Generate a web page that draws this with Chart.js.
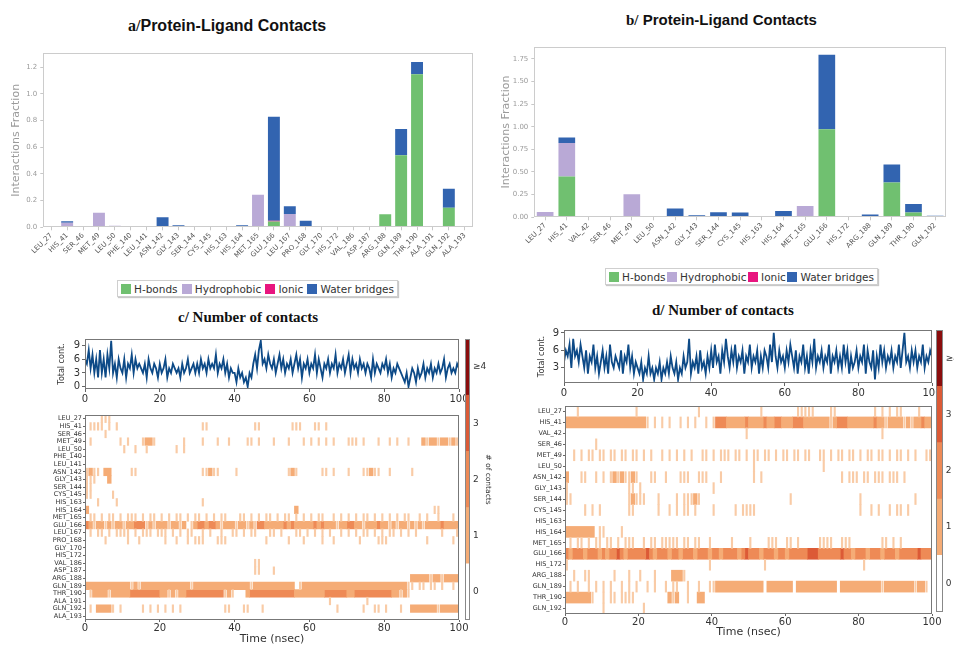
<!DOCTYPE html>
<html><head><meta charset="utf-8">
<script src="https://cdn.jsdelivr.net/npm/chart.js@4.4.1/dist/chart.umd.min.js"></script>
<style>
html,body{margin:0;padding:0;background:#fff}
body{width:954px;height:646px;overflow:hidden;position:relative;font-family:'DejaVu Sans',sans-serif}
canvas{position:absolute}
.title{position:absolute;white-space:nowrap;font-weight:bold;color:#111;line-height:1}
.serif{font-family:'Liberation Serif','DejaVu Serif',serif}
.sans{font-family:'Liberation Sans',Arial,sans-serif}
.legend{position:absolute;height:17px;box-sizing:border-box;border:1px solid #cfcfcf;box-shadow:1px 1px 1px #c8c8c8;display:flex;align-items:center;justify-content:space-between;padding:0 3px;font-size:10.5px;color:#333;background:#fff}
.legend .it{display:flex;align-items:center;white-space:nowrap}
.legend i{display:inline-block;width:10px;height:10px;margin-right:3px}
</style></head>
<body>
<div class="title" style="left:128px;top:18px;font-size:16px"><span class="serif">a/</span><span class="sans">Protein-Ligand Contacts</span></div>
<div class="title" style="left:626px;top:12px;font-size:15px"><span class="serif">b/</span><span class="sans"> Protein-Ligand Contacts</span></div>
<div class="title serif" style="left:178px;top:310px;font-size:15px">c/ Number of contacts</div>
<div class="title serif" style="left:652px;top:303px;font-size:15px">d/ Number of contacts</div>
<div class="legend" style="left:117px;top:280px;width:281px">
  <span class="it"><i style="background:#70c070"></i>H-bonds</span>
  <span class="it"><i style="background:#b9a9d6"></i>Hydrophobic</span>
  <span class="it"><i style="background:#e8157f"></i>Ionic</span>
  <span class="it"><i style="background:#3264b0"></i>Water bridges</span>
</div>
<div class="legend" style="left:605px;top:268px;width:273px">
  <span class="it"><i style="background:#70c070"></i>H-bonds</span>
  <span class="it"><i style="background:#b9a9d6"></i>Hydrophobic</span>
  <span class="it"><i style="background:#e8157f"></i>Ionic</span>
  <span class="it"><i style="background:#3264b0"></i>Water bridges</span>
</div>
<script>
// ---------------- DATA ----------------
// Panel a: protein-ligand contact fractions
const residuesA = ['LEU_27','HIS_41','SER_46','MET_49','LEU_50','PHE_140','LEU_141','ASN_142','GLY_143','SER_144','CYS_145','HIS_163','HIS_164','MET_165','GLU_166','LEU_167','PRO_168','GLY_170','HIS_172','VAL_186','ASP_187','ARG_188','GLN_189','THR_190','ALA_191','GLN_192','ALA_193'];
const hbondsA      = [0,0,0,0,0,0,0,0.005,0,0,0,0,0.01,0,0.043,0,0,0,0,0,0,0.0975,0.54,1.1475,0,0.1475,0];
const hydrophobicA = [0.005,0.035,0.005,0.11,0.012,0,0,0,0,0,0.003,0.003,0,0.245,0,0.1,0.005,0,0,0,0.005,0,0,0,0.005,0,0];
const ionicA       = [0,0,0,0,0,0,0,0,0,0,0,0,0,0,0.006,0,0,0,0,0,0,0,0,0,0,0,0];
const waterA       = [0,0.01,0,0,0,0,0,0.07,0.015,0,0,0,0.005,0,0.78,0.058,0.045,0,0,0,0,0,0.1975,0.0925,0,0.1425,0];
const yTicksA = [0,0.2,0.4,0.6,0.8,1.0,1.2];

// Panel b
const residuesB = ['LEU_27','HIS_41','VAL_42','SER_46','MET_49','LEU_50','ASN_142','GLY_143','SER_144','CYS_145','HIS_163','HIS_164','MET_165','GLU_166','HIS_172','ARG_188','GLN_189','THR_190','GLN_192'];
const hbondsB      = [0,0.45,0,0,0,0,0.01,0,0.005,0.005,0,0,0,0.972,0,0,0.383,0.052,0];
const hydrophobicB = [0.059,0.37,0,0,0.254,0,0,0,0,0,0,0,0.125,0,0,0,0,0,0];
const ionicB       = [0,0,0,0,0,0,0,0,0,0,0,0,0,0,0,0,0,0,0];
const waterB       = [0,0.06,0,0,0,0.004,0.086,0.022,0.05,0.047,0,0.07,0,0.821,0.005,0.03,0.199,0.095,0.018];
const yTicksB = [0,0.25,0.5,0.75,1.0,1.25,1.5,1.75];

// Total contacts time series (one sample every 0.5 ns, 0..100 ns)
const SAMPLE_NS = 0.5;
const totalContactsC = [
6,5,8,4,7,3,6,2,8,3, 6,2,7,4,10,3,5,2,6,4, 3,6,2,5,4,7,3,6,4,5, 4,3,5,2,6,4,3,5,4,2,
5,3,4,6,2,4,3,5,4,3, 4,2,5,3,4,6,3,4,5,3, 5,3,6,4,5,3,6,4,5,4, 7,3,5,4,6,3,5,2,4,3,
3,1,4,2,3,1,2,0,3,2, 5,7,4,8,10,5,6,4,7,5, 4,6,3,5,7,4,6,3,5,4, 6,3,5,7,4,6,2,5,4,6,
3,5,4,7,3,6,4,2,5,4, 6,3,5,4,7,3,5,4,6,3, 5,7,3,6,4,5,3,6,4,5, 3,5,4,2,6,3,5,4,3,5,
4,6,3,5,2,4,3,5,4,3, 2,1,3,0,2,4,3,1,4,2, 3,5,2,4,3,5,2,4,3,5, 3,4,6,2,4,5,3,4,3,5, 4];
const totalContactsD = [
4,6,5,7,3,8,5,6,4,7, 5,3,6,2,5,4,7,3,5,2, 4,6,3,5,2,7,4,3,5,4, 3,6,2,5,4,7,3,5,2,4,
3,2,4,1,3,2,5,2,3,1, 3,2,4,1,3,2,4,2,5,3, 2,4,1,3,2,5,3,4,8,2, 4,3,5,2,6,3,4,2,5,3,
6,3,7,4,5,2,6,4,8,5, 3,6,4,7,3,5,4,6,2,5, 4,7,3,5,4,6,2,5,3,6, 5,3,7,4,9,5,3,6,4,5,
3,6,4,7,5,3,6,2,5,4, 7,3,5,2,6,4,8,3,5,4, 6,3,5,4,7,2,5,4,6,3, 5,3,7,4,6,2,5,3,4,6,
3,5,4,7,2,6,4,3,6,1, 5,3,7,4,6,3,5,4,6,3, 5,4,7,3,6,9,4,5,3,6, 4,6,3,5,4,7,3,5,4,6, 5];
const timeTicks = [0,20,40,60,80,100];
const yTicksC = [0,3,6,9];
const yTicksD = [3,6,9];

// Contact maps: one character per ns ('.' none, 'x' occasional frame, '1'/'2'/'3' contacts held)
const residuesC = ['LEU_27','HIS_41','SER_46','MET_49','LEU_50','PHE_140','LEU_141','ASN_142','GLY_143','SER_144','CYS_145','HIS_163','HIS_164','MET_165','GLU_166','LEU_167','PRO_168','GLY_170','HIS_172','VAL_186','ASP_187','ARG_188','GLN_189','THR_190','ALA_191','GLN_192','ALA_193'];
const contactMapC = [
"....xxx...",
".xxxx.x.x. .......... .......... .xx....... .....xx... .....xxx.. .xx.x.....",
".....x....",
".x.......x .x...x11x. ......x... .x...x..x. ...xx.x... x...x...x. x.x.x.x... xxx.x...x. .x.x..x... 1x11x11x1x",
".......... x..x..x... ....x.x...",
"",
"",
"x1xx.11... ..xx...... .......... .xx1xx.... x......... ....x1x... ...xx.x... x...xx1xx. .x.....x..",
"xxx...1...",
"xx........",
"xx.....x..",
"...x....x. .......... .......... .x........",
"1......... .......... .......... .......... .......... ......1... .......... .......... .......... ...xx.....",
".xx.x.xx.x .xxx.x.xx. x.x.xx.x.x x.x.x.xx.. .xx.x.x.xx .x.xx.x.x. x.xx..x.x. x.x.xx.x.x .x.x.xx..x .x..x...x.",
"21x11x1x11 x11222x1x1 11x11x1.x1 221221x111 x11x1x2211 1112121111 1212111x11 2211x11121 1x1x11x1x1 x111121111",
".x.xx.x.xx xx.x.xxx.x xx.x.x.xx. .x.x..x..x x.x.xx...x x.x...xx.x .x.x.x..x. x.x.xx.x.x .xx.x.x.x. .....x...x",
".....x.... .x..x..... .x..x..x.x xx...xxx.. ........x. ....x...x. ...x..x... ...x....xx x......... .x......x.",
"",
"",
".......... .......... .......... .......... .....xx...",
".......... .......... .......... .......... .....xx... x.........",
".......... .......... .......... .......... .......... .......... .......... .......... .......111 11x11x1111",
"1111111111 11x1x11111 11111111x1 1111111111 1111x11111 111111.x11 1111111111 1111111111 111111xx.x x.xx.x..x.",
".x1111x111 1122222222 11x1x11222 2222222x1x ...1222222 2222221111 1111222222 1122222222 2211x1x...",
".......... .......... .......... .......... .......... .......... .....x.... .....x....",
".x.1111x.x .....x.x.x .x.x.x.... .......xx. ..xx...x.. .......... .......x.. ....x..xx. x...x..111 1111x11111",
""];
const residuesD = ['LEU_27','HIS_41','VAL_42','SER_46','MET_49','LEU_50','ASN_142','GLY_143','SER_144','CYS_145','HIS_163','HIS_164','MET_165','GLU_166','HIS_172','ARG_188','GLN_189','THR_190','GLN_192'];
const contactMapD = [
"...x...... .........x .......... ......x... .......... ...x...... ...xxxxx.. ..xx...... ....x.x.x. xx....x...",
"1111111111 1111111111 11x.x.x.x. .x.x.x..x. x222111112 1111211221 1122211111 11x1222111 1111211x11 11x1x11211",
".......... .......... .......... .......... .........x .......... .......... .......... ......x...",
"........x.",
"..x.x.xx.x x.xx.xx.xx .x.x..x.x. x.x.x..xx. x.xxx.xx.x .xx.xx.x.x x.xx.xx..x x.x.xx.xx. x.xx.xx.x. xx.x.x..xx",
".......... .......... .......... .......... .......... .x........ .......... x.........",
"1...xx..x. x.x1x1xx1x ...xx..x.. .xxx..xxx. ..x....... .x.x...... .......... .....x.xxx .xx.xxx.xx x.x.......",
"x......... .......xx. x......... .......... x.........",
"xx........ .......x1x xx...x.... x.xxx1x... .......... .......... .x........ .......... x......... .....x....",
".....x.x.x .......xx. .....x..x. x.xx.x.... x.....x.xx xx........ .......... .......... x..x.x..x. xx.x......",
"",
"11111111.x x....x....",
".x.xx.x.xx .xx.x.xxx. .x.xx.xxxx x.xx.xx..x .....x.... x....xxx.. xx.x.....x xxx..xxx.. ......xx.x .x........",
"2122212221 2122321222 2232122212 2122212221 2212222123 2221222122 1222223332 2222232212 2212221222 1222223222",
"x......... .......... .......... .........x .......... ....x..... .......... .......... .x........",
"..x..xx... ...x...x.. x...x....1 11x.......",
".x.x..x.x. x.x..x.x.x ..x.x..x.x x..x..x..x x111111111 1111.11111 11.1111111 1111.11111 111111x111 11111x11x.",
"1111111x.. x.xx.xxxx. ........1x 1..x..11..",
".......... x......... .x........"];
const levelLabels = ['0','1','2','3','\u22654'];

// ---------------- STYLE ----------------
const COL = {h:'#70c070', hy:'#b9a9d6', io:'#e8157f', w:'#3264b0', line:'#0d4a87'};
const cellColors = {x:'#f9cba6', '1':'#f5ac76', '2':'#ee8a56', '3':'#dc5a36'};
const barColors = ['#ffffff','#f5ac76','#ee8a56','#dc5a36','#8b0d0d'];

Chart.defaults.font.family = "'DejaVu Sans', sans-serif";
Chart.defaults.color = '#333';
Chart.defaults.plugins.legend.display = false;
Chart.defaults.plugins.tooltip.enabled = false;

const framePlugin = {
  id:'frame',
  afterDatasetsDraw(chart, args, opts){
    const {ctx, chartArea:a} = chart;
    ctx.save();
    ctx.strokeStyle = opts.color || '#888';
    ctx.lineWidth = 1;
    const l = Math.round(a.left)+0.5, t = Math.round(a.top)+0.5;
    const r = Math.round(a.right)-0.5, b = Math.round(a.bottom)-0.5;
    ctx.strokeRect(l, t, r-l, b-t);
    ctx.restore();
  }
};

function mk(left, top, w, h){
  const c = document.createElement('canvas');
  c.width = w; c.height = h;
  c.style.left = left+'px'; c.style.top = top+'px';
  c.style.width = w+'px'; c.style.height = h+'px';
  document.body.appendChild(c);
  return c;
}
const setTicks = list => s => { s.ticks = list.map(v => ({value:v})); };
const base = {responsive:false, maintainAspectRatio:false, animation:false, events:[], devicePixelRatio:1};

function contactBars(el, labels, h, hy, io, w, yMax, yTicks, dec, pad, yWidth, xHeight, titlePad, barPct){
  return new Chart(el, {
    type:'bar',
    data:{labels, datasets:[
      {label:'H-bonds', data:h, backgroundColor:COL.h},
      {label:'Hydrophobic', data:hy, backgroundColor:COL.hy},
      {label:'Ionic', data:io, backgroundColor:COL.io},
      {label:'Water bridges', data:w, backgroundColor:COL.w}]},
    options:Object.assign({}, base, {
      layout:{padding:pad},
      datasets:{bar:{barPercentage:barPct, categoryPercentage:1, borderWidth:0}},
      scales:{
        x:{stacked:true, grid:{display:true, drawOnChartArea:false, tickLength:3, color:'#c8c8c8', offset:false},
           border:{display:false},
           ticks:{autoSkip:false, minRotation:45, maxRotation:45, font:{size:7}, color:'#555', padding:1},
           afterFit:s=>{s.height = xHeight;}},
        y:{stacked:true, min:0, max:yMax, afterBuildTicks:setTicks(yTicks),
           ticks:{font:{size:7}, color:'#9a9a9a', padding:3, callback:v=>Number(v).toFixed(dec)},
           grid:{display:true, drawOnChartArea:false, tickLength:3, color:'#c8c8c8'},
           border:{display:false},
           title:{display:true, text:'Interactions Fraction', color:'#9a9a9a', font:{size:11}, padding:{top:titlePad, bottom:0}},
           afterFit:s=>{s.width = yWidth;}}
      },
      plugins:{frame:{color:'#cccccc'}}
    }),
    plugins:[framePlugin]
  });
}

function contactLine(el, values, yMin, yMax, yTicks, pad, yWidth, xHeight){
  return new Chart(el, {
    type:'line',
    data:{datasets:[{data:values.map((v,i)=>({x:i*SAMPLE_NS, y:v})), borderColor:COL.line, borderWidth:1.8, pointRadius:0, tension:0, fill:false}]},
    options:Object.assign({}, base, {
      layout:{padding:pad},
      scales:{
        x:{type:'linear', min:0, max:100, afterBuildTicks:setTicks(timeTicks),
           ticks:{font:{size:10}, color:'#333', padding:1, maxRotation:0},
           grid:{display:true, drawOnChartArea:false, tickLength:3, color:'#666'}, border:{display:false},
           afterFit:s=>{s.height = xHeight;}},
        y:{type:'linear', min:yMin, max:yMax, afterBuildTicks:setTicks(yTicks),
           ticks:{font:{size:10}, color:'#333', padding:2},
           grid:{display:true, drawOnChartArea:false, tickLength:3, color:'#666'}, border:{display:false},
           title:{display:true, text:'Total cont.', font:{size:8}, color:'#333', padding:{top:57.6, bottom:0}},
           afterFit:s=>{s.width = yWidth;}}
      },
      plugins:{frame:{color:'#777'}}
    }),
    plugins:[framePlugin]
  });
}

function buildHeat(rows, labels){
  const sets = {x:[], '1':[], '2':[], '3':[]};
  rows.forEach((raw, r) => {
    let s = raw.replace(/ /g,'');
    while (s.length < 100) s += '.';
    s = s.slice(0,100);
    let i = 0;
    while (i < s.length){
      const c = s[i];
      if (c === '.') { i++; continue; }
      if (c === 'x') { sets.x.push({y:labels[r], x:[i+0.3, i+0.7]}); i++; continue; }
      let j = i; while (j < s.length && s[j] === c) j++;
      sets[c].push({y:labels[r], x:[i, j]});
      i = j;
    }
  });
  return ['x','1','2','3'].map(k => ({data:sets[k], backgroundColor:cellColors[k], grouped:false,
    barPercentage:1, categoryPercentage:1, borderWidth:0, borderSkipped:false}));
}

function heatmap(el, labels, rows, pad, yWidth, xHeight, titlePadBottom){
  return new Chart(el, {
    type:'bar',
    data:{labels, datasets:buildHeat(rows, labels)},
    options:Object.assign({}, base, {
      indexAxis:'y',
      layout:{padding:pad},
      scales:{
        x:{type:'linear', min:0, max:100, afterBuildTicks:setTicks(timeTicks),
           ticks:{font:{size:10}, color:'#333', padding:0, maxRotation:0},
           grid:{display:true, drawOnChartArea:false, tickLength:2, color:'#666'}, border:{display:false},
           title:{display:true, text:'Time (nsec)', font:{size:11}, color:'#333', padding:{top:0, bottom:titlePadBottom}},
           afterFit:s=>{s.height = xHeight;}},
        y:{type:'category', ticks:{autoSkip:false, font:{size:6.5}, color:'#333', padding:1},
           grid:{display:true, drawOnChartArea:false, tickLength:2, color:'#666', offset:false}, border:{display:false},
           afterFit:s=>{s.width = yWidth;}}
      },
      plugins:{frame:{color:'#777'}}
    }),
    plugins:[framePlugin]
  });
}

function colorbar(el, pad, axisWidth, title, titlePad){
  return new Chart(el, {
    type:'bar',
    data:{labels:[''], datasets:levelLabels.map((n,i)=>({label:n, data:[1], backgroundColor:barColors[i]}))},
    options:Object.assign({}, base, {
      layout:{padding:pad},
      datasets:{bar:{barPercentage:1, categoryPercentage:1, borderWidth:0}},
      scales:{
        x:{display:false, stacked:true},
        y:{stacked:true, position:'right', min:0, max:5, afterBuildTicks:setTicks([0.5,1.5,2.5,3.5,4.5]),
           ticks:{callback:(v,i)=>levelLabels[i], font:{size:9}, color:'#333', padding:3},
           grid:{display:false, drawTicks:false, tickLength:0}, border:{display:false},
           title:{display:!!title, text:title||'', font:{size:7.5}, color:'#333', padding:{top:titlePad, bottom:0}},
           afterFit:s=>{s.width = axisWidth;}}
      },
      plugins:{frame:{color:'#888'}}
    }),
    plugins:[framePlugin]
  });
}

// ---------------- CHARTS ----------------
contactBars(mk(0,40,480,230), residuesA, hbondsA, hydrophobicA, ionicA, waterA, 1.305, yTicksA, 1,
  {top:13.3, right:7.3, left:0, bottom:0}, 43.3, 42.7, 10, 0.75);
contactBars(mk(480,30,474,230), residuesB, hbondsB, hydrophobicB, ionicB, waterB, 1.883, yTicksB, 2,
  {top:16.7, right:8, left:0, bottom:0}, 54.3, 42.7, 20, 0.77);
contactLine(mk(0,330,480,80), totalContactsC, -0.5, 10.4, yTicksC, {top:9, right:21, left:0, bottom:0}, 85, 21);
contactLine(mk(480,322,474,88), totalContactsD, 0.4, 9.5, yTicksD, {top:8, right:22, left:0, bottom:0}, 84, 27);
heatmap(mk(0,405,480,241), residuesC, contactMapC, {top:10, right:21, left:0, bottom:0}, 85, 26, 0);
heatmap(mk(480,398,474,248), residuesD, contactMapD, {top:8, right:22, left:0, bottom:0}, 85, 32, 7);
colorbar(mk(460,330,40,300), {left:5, top:9, bottom:10, right:0}, 30, '# of contacts', 8);
colorbar(mk(930,320,24,300), {left:6, top:10, bottom:8, right:0}, 11.3, '', 0);
</script>
</body></html>
